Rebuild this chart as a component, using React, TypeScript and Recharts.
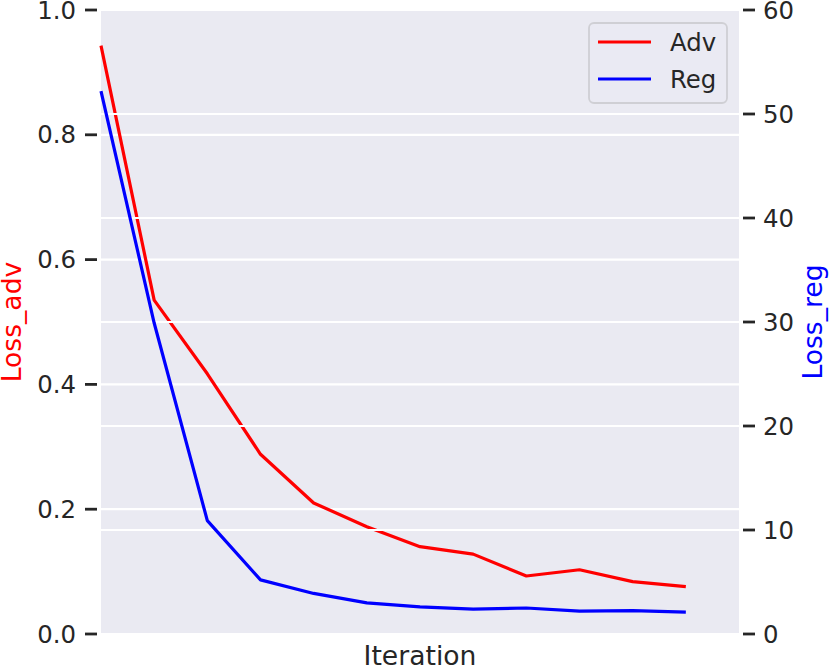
import React from 'react';
import { LineChart, Line, XAxis, YAxis, CartesianGrid, ReferenceLine, Legend } from 'recharts';

const iterations = [0, 1, 2, 3, 4, 5, 6, 7, 8, 9, 10, 11];
const lossAdv = [0.943, 0.535, 0.417, 0.288, 0.21, 0.172, 0.14, 0.128, 0.093, 0.103, 0.084, 0.076];
const lossReg = [52.2, 29.9, 10.9, 5.2, 3.9, 3.0, 2.6, 2.4, 2.5, 2.2, 2.25, 2.1];
const advTicks = [0, 0.2, 0.4, 0.6, 0.8, 1.0];
const regTicks = [0, 10, 20, 30, 40, 50, 60];
const regGridValues = [10, 20, 30, 40, 50];
const seriesNames = ['Adv', 'Reg'];
const seriesColors = ['#ff0000', '#0000ff'];

const data = iterations.map((it, i) => ({ it, adv: lossAdv[i], reg: lossReg[i] }));

const FONT = '"DejaVu Sans", sans-serif';
const TEXT = '#262626';
const BG = '#EAEAF2';
const TICK_FS = 24.4;
const LABEL_FS = 26.6;

const LeftTick = (props: any) => {
  const { x, y, payload } = props;
  return (
    <g>
      <line x1={x + 9} x2={x + 21} y1={y} y2={y} stroke={TEXT} strokeWidth={2.8} />
      <text x={x} y={y} dy="0.355em" textAnchor="end" fill={TEXT} fontSize={TICK_FS} fontFamily={FONT}>
        {Number(payload.value).toFixed(1)}
      </text>
    </g>
  );
};

const RightTick = (props: any) => {
  const { x, y, payload } = props;
  return (
    <g>
      <line x1={x - 20} x2={x - 8} y1={y} y2={y} stroke={TEXT} strokeWidth={2.8} />
      <text x={x} y={y} dy="0.355em" textAnchor="start" fill={TEXT} fontSize={TICK_FS} fontFamily={FONT}>
        {String(payload.value)}
      </text>
    </g>
  );
};

const LeftLabel = (props: any) => {
  const vb = props.viewBox || { x: 0, y: 10, width: 101, height: 624 };
  const x = vb.x + 21;
  const y = vb.y + vb.height / 2;
  return (
    <text x={x} y={y} transform={`rotate(-90, ${x}, ${y})`} textAnchor="middle" fill="#ff0000" fontSize={LABEL_FS} fontFamily={FONT}>
      Loss_adv
    </text>
  );
};

const RightLabel = (props: any) => {
  const vb = props.viewBox || { x: 739, y: 10, width: 92, height: 624 };
  const x = vb.x + 83;
  const y = vb.y + vb.height / 2;
  return (
    <text x={x} y={y} transform={`rotate(-90, ${x}, ${y})`} textAnchor="middle" fill="#0000ff" fontSize={LABEL_FS} fontFamily={FONT}>
      Loss_reg
    </text>
  );
};

const LegendBox = () => (
  <svg width={140} height={82} style={{ display: 'block' }}>
    <rect x={1} y={1} width={138} height={80} rx={5} ry={5} fill={BG} fillOpacity={0.8} stroke="#cfcfd4" strokeWidth={1.8} />
    {seriesNames.map((n, i) => (
      <g key={n}>
        <line x1={10} x2={63} y1={20 + i * 37} y2={20 + i * 37} stroke={seriesColors[i]} strokeWidth={3.2} />
        <text x={82} y={20 + i * 37} dy="0.355em" fill={TEXT} fontSize={TICK_FS} fontFamily={FONT}>
          {n}
        </text>
      </g>
    ))}
  </svg>
);

export default function App() {
  return (
    <div style={{ position: 'absolute', left: 0, top: 0, width: 831, height: 671, background: '#ffffff' }}>
      <LineChart width={831} height={671} data={data} margin={{ top: 10, right: 0, bottom: 0, left: 0 }}>
        <CartesianGrid yAxisId="left" vertical={false} horizontal={true} fill={BG} stroke="#ffffff" strokeWidth={2.2} />
        <XAxis
          dataKey="it"
          type="number"
          domain={[0, 12]}
          ticks={[]}
          tick={false}
          axisLine={false}
          tickLine={false}
          height={37}
          label={{ value: 'Iteration', position: 'insideBottom', offset: 6, fill: TEXT, fontSize: LABEL_FS, fontFamily: FONT }}
        />
        <YAxis
          yAxisId="left"
          orientation="left"
          width={101}
          domain={[0, 1]}
          ticks={advTicks}
          interval={0}
          axisLine={false}
          tickLine={false}
          tickSize={16}
          tickMargin={9}
          tick={<LeftTick />}
          label={{ content: LeftLabel }}
        />
        <YAxis
          yAxisId="right"
          orientation="right"
          width={92}
          domain={[0, 60]}
          ticks={regTicks}
          interval={0}
          axisLine={false}
          tickLine={false}
          tickSize={16}
          tickMargin={8}
          tick={<RightTick />}
          label={{ content: RightLabel }}
        />
        <Line
          yAxisId="left"
          dataKey="adv"
          name="Adv"
          stroke="#ff0000"
          strokeWidth={3.2}
          dot={false}
          activeDot={false}
          type="linear"
          strokeLinejoin="round"
          isAnimationActive={false}
          zIndex={400}
        />
        {regGridValues.map((v) => (
          <ReferenceLine key={v} yAxisId="right" y={v} stroke="#ffffff" strokeWidth={2.2} ifOverflow="hidden" zIndex={450} />
        ))}
        <Line
          yAxisId="right"
          dataKey="reg"
          name="Reg"
          stroke="#0000ff"
          strokeWidth={3.2}
          dot={false}
          activeDot={false}
          type="linear"
          strokeLinejoin="round"
          isAnimationActive={false}
          zIndex={500}
        />
        <Legend
          layout="horizontal"
          verticalAlign="middle"
          align="center"
          content={<LegendBox />}
          wrapperStyle={{ position: 'absolute', left: 588, top: 22, width: 140, height: 82 }}
        />
      </LineChart>
    </div>
  );
}
